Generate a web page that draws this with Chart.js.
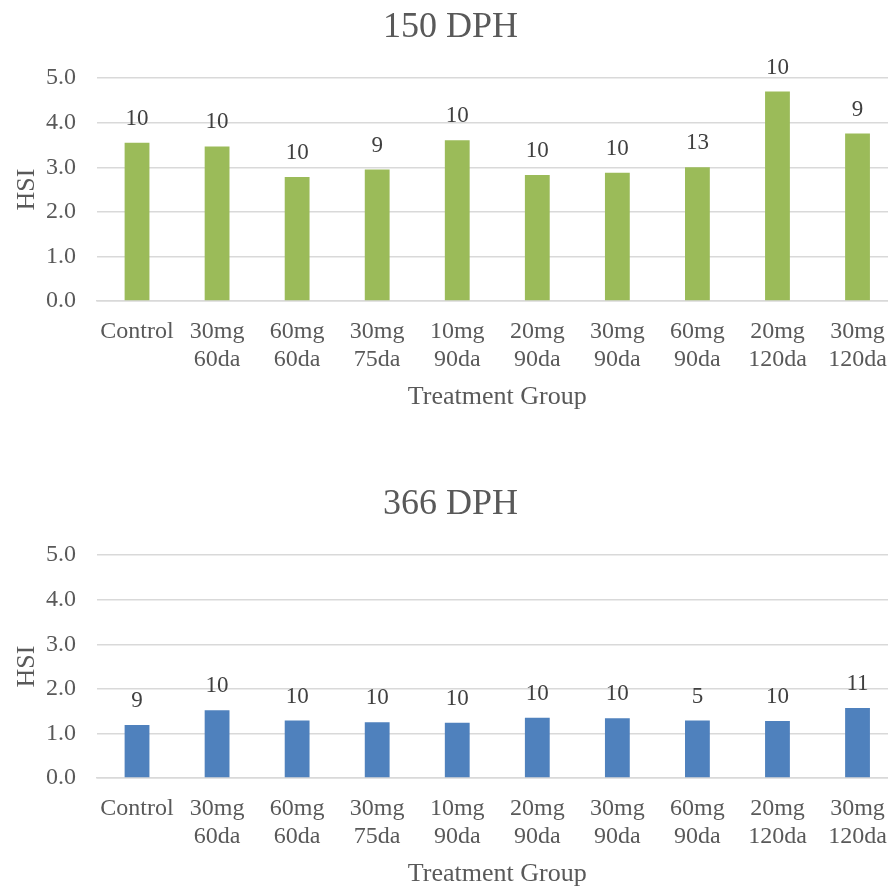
<!DOCTYPE html>
<html>
<head>
<meta charset="utf-8">
<script src="https://cdn.jsdelivr.net/npm/chart.js@4/dist/chart.umd.min.js"></script>
<style>
  html, body { margin: 0; padding: 0; background: #fff; overflow: hidden; }
  #page { position: relative; width: 888px; height: 888px; overflow: hidden; background: #fff; }
  .panel { position: absolute; left: 0; width: 904px; height: 411px; }
  #p1 { top: 0; }
  #p2 { top: 477px; }
</style>
</head>
<body>
<div id="page">
  <div class="panel" id="p1"><canvas id="c1" width="904" height="411"></canvas></div>
  <div class="panel" id="p2"><canvas id="c2" width="904" height="411"></canvas></div>
</div>
<script>
// Treatment groups (dose / duration)
const groups = [
  ["Control"], ["30mg", "60da"], ["60mg", "60da"], ["30mg", "75da"], ["10mg", "90da"],
  ["20mg", "90da"], ["30mg", "90da"], ["60mg", "90da"], ["20mg", "120da"], ["30mg", "120da"]
];

// Mean HSI at 150 days post hatch, with sample sizes
const hsi150 = [3.55, 3.47, 2.78, 2.95, 3.61, 2.83, 2.88, 3.00, 4.70, 3.76];
const n150   = [10, 10, 10, 9, 10, 10, 10, 13, 10, 9];

// Mean HSI at 366 days post hatch, with sample sizes
const hsi366 = [1.19, 1.52, 1.29, 1.25, 1.24, 1.35, 1.34, 1.29, 1.28, 1.57];
const n366   = [9, 10, 10, 10, 10, 10, 10, 5, 10, 11];

const yTicks = [0, 1, 2, 3, 4, 5];

const FONT = "'Liberation Serif', 'Times New Roman', serif";
const TEXT = '#595959';
const GRID = '#d9d9d9';

// Writes the sample size above each bar
const countLabels = {
  id: 'countLabels',
  afterDatasetsDraw(chart, args, opts) {
    const ctx = chart.ctx;
    const meta = chart.getDatasetMeta(0);
    ctx.save();
    ctx.font = '23px ' + FONT;
    ctx.fillStyle = '#404040';
    ctx.textAlign = 'center';
    ctx.textBaseline = 'middle';
    meta.data.forEach((bar, i) => {
      ctx.fillText(String(opts.counts[i]), bar.x, bar.y - 24);
    });
    ctx.restore();
  }
};

function makeChart(id, title, values, counts, color) {
  return new Chart(document.getElementById(id), {
    type: 'bar',
    data: {
      labels: groups,
      datasets: [{
        data: values,
        backgroundColor: color,
        barPercentage: 0.31,
        categoryPercentage: 1.0
      }]
    },
    plugins: [countLabels],
    options: {
      responsive: false,
      animation: false,
      devicePixelRatio: 1,
      layout: { padding: { left: 0, right: 3, top: 0, bottom: 0 } },
      plugins: {
        legend: { display: false },
        tooltip: { enabled: false },
        title: {
          display: true,
          text: title,
          color: TEXT,
          font: { family: FONT, size: 36, weight: 'normal' },
          padding: { top: 6, bottom: 29 }
        },
        countLabels: { counts: counts }
      },
      scales: {
        x: {
          offset: true,
          afterFit(scale) { scale.height = 110; },
          grid: { display: false, drawTicks: false },
          border: { display: true, color: GRID, width: 1.5 },
          ticks: {
            color: TEXT,
            font: { family: FONT, size: 24, lineHeight: 28 / 24 },
            padding: 17,
            maxRotation: 0,
            minRotation: 0,
            autoSkip: false
          },
          title: {
            display: true,
            text: 'Treatment Group',
            color: TEXT,
            font: { family: FONT, size: 26, weight: 'normal' },
            padding: { top: 5, bottom: -2 }
          }
        },
        y: {
          min: 0,
          max: 5,
          afterBuildTicks(scale) {
            scale.ticks = yTicks.map(v => ({ value: v }));
          },
          afterFit(scale) { scale.width = 97; },
          grid: { color: GRID, lineWidth: 1.5, drawTicks: false },
          border: { display: false },
          ticks: {
            color: TEXT,
            font: { family: FONT, size: 24 },
            padding: 21,
            callback: v => Number(v).toFixed(1)
          },
          title: {
            display: true,
            text: 'HSI',
            color: TEXT,
            font: { family: FONT, size: 26, weight: 'normal' },
            padding: { top: 12, bottom: 0 }
          }
        }
      }
    }
  });
}

makeChart('c1', '150 DPH', hsi150, n150, '#9BBB59');
makeChart('c2', '366 DPH', hsi366, n366, '#4F81BD');
</script>
</body>
</html>
